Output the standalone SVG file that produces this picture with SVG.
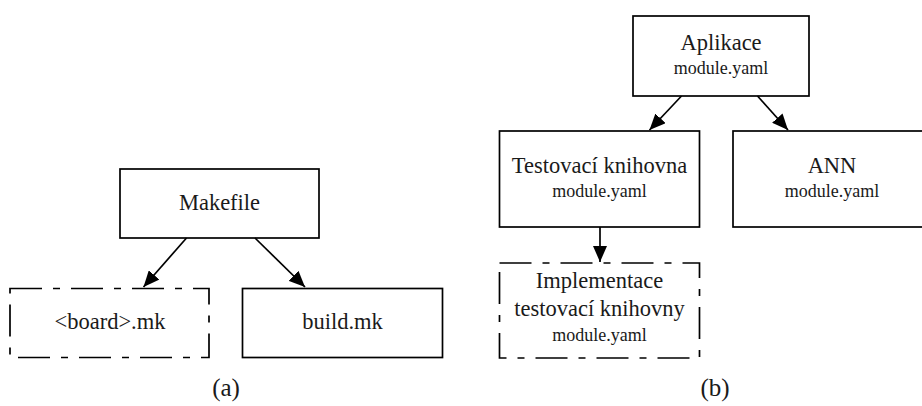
<svg xmlns="http://www.w3.org/2000/svg" width="922" height="406" viewBox="0 0 922 406">
  <defs>
    <marker id="arrow" markerUnits="userSpaceOnUse" markerWidth="18" markerHeight="14" refX="16" refY="7" orient="auto">
      <path d="M0,0 L16,7 L0,14 z" fill="#000"/>
    </marker>
    <style>
      .box { fill: #fff; stroke: #000; stroke-width: 1.7; }
      .dash { stroke-dasharray: 32 11 7 11; }
      .t { font-size: 22.5px; fill: #1a1a1a; text-anchor: middle; }
      .s { font-size: 18px; fill: #1a1a1a; text-anchor: middle; }
      .cap { font-size: 25px; fill: #1a1a1a; text-anchor: middle; }
      .edge { stroke: #000; stroke-width: 1.7; fill: none; marker-end: url(#arrow); }
    </style>
  </defs>
  <rect width="922" height="406" fill="#fff"/>

  <g font-family="'Liberation Serif', 'DejaVu Serif', serif">
  <!-- (a) make build -->
  <g id="makefile">
    <rect class="box" x="120" y="169" width="199" height="69"/>
    <text class="t" x="219.5" y="210">Makefile</text>
  </g>
  <g id="board-mk">
    <rect class="box dash" x="10" y="288.5" width="199" height="69"/>
    <text class="t" x="110" y="329">&lt;board&gt;.mk</text>
  </g>
  <g id="build-mk">
    <rect class="box" x="242.5" y="288.5" width="200" height="69"/>
    <text class="t" x="342.5" y="329">build.mk</text>
  </g>
  <text class="cap" x="226" y="396">(a)</text>

  <!-- (b) module tree -->
  <g id="aplikace">
    <rect class="box" x="633" y="16" width="176" height="80"/>
    <text class="t" x="721" y="50">Aplikace</text>
    <text class="s" x="721" y="74">module.yaml</text>
  </g>
  <g id="testovaci">
    <rect class="box" x="499.5" y="131" width="200" height="96"/>
    <text class="t" x="599.5" y="173">Testovací knihovna</text>
    <text class="s" x="599.5" y="197">module.yaml</text>
  </g>
  <g id="ann">
    <rect class="box" x="733" y="131" width="200" height="96"/>
    <text class="t" x="832" y="173">ANN</text>
    <text class="s" x="832" y="197">module.yaml</text>
  </g>
  <g id="implementace">
    <rect class="box dash" x="499.5" y="263" width="200" height="95"/>
    <text class="t" x="599.5" y="288">Implementace</text>
    <text class="t" x="599.5" y="316">testovací knihovny</text>
    <text class="s" x="599.5" y="341">module.yaml</text>
  </g>
  <text class="cap" x="715" y="396">(b)</text>
  </g>

  <g id="connectors">
    <line class="edge" x1="186.5" y1="238" x2="143.5" y2="287"/>
    <line class="edge" x1="255" y1="238" x2="305" y2="287"/>
    <line class="edge" x1="681.5" y1="96" x2="649.5" y2="130"/>
    <line class="edge" x1="757.5" y1="96" x2="788" y2="130"/>
    <line class="edge" x1="600" y1="227" x2="600" y2="262"/>
  </g>
</svg>
